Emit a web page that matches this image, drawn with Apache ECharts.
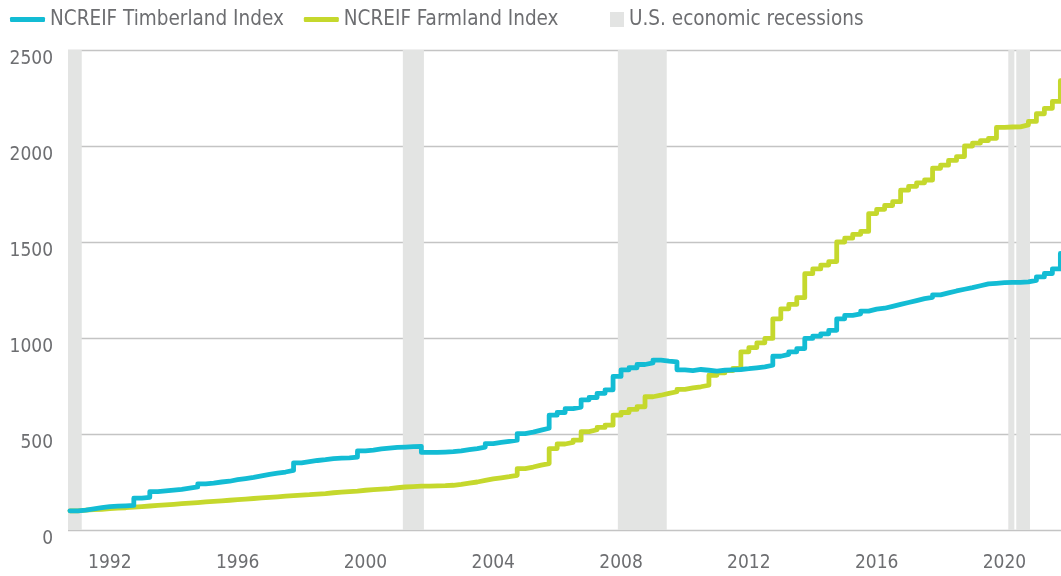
<!DOCTYPE html>
<html>
<head>
<meta charset="utf-8">
<title>NCREIF Timberland vs Farmland</title>
<script src="https://cdn.jsdelivr.net/npm/echarts@6/dist/echarts.min.js"></script>
<style>
    html, body { margin: 0; padding: 0; background: #fff; }
    #chart { width: 1061px; height: 576px; }
</style>
</head>
<body>
<div id="chart"></div>
<script>
// quarterly index values, first quarter = 1990 Q4, step 0.25 yr
var firstQuarter = 1990.75;
var timberland = [
    100,
    104, 110, 116, 122,
    124, 126, 128, 166,
    170, 200, 204, 208,
    212, 218, 224, 240,
    244, 250, 254, 262,
    268, 274, 282, 290,
    296, 302, 310, 350,
    356, 362, 366, 372,
    374, 376, 380, 412,
    416, 422, 426, 430,
    432, 434, 436, 404,
    404, 406, 408, 412,
    418, 424, 432, 450,
    456, 462, 468, 502,
    510, 520, 530, 598,
    612, 632, 640, 678,
    690, 712, 730, 800,
    834, 845, 862, 870,
    885, 880, 876, 834,
    830, 836, 832, 828,
    832, 834, 836, 840,
    845, 850, 858, 905,
    915, 928, 945, 998,
    1010, 1022, 1040, 1100,
    1118, 1126, 1140, 1150,
    1155, 1165, 1175, 1185,
    1195, 1205, 1212, 1225,
    1235, 1245, 1254, 1262,
    1272, 1282, 1285, 1288,
    1290, 1290, 1292, 1300,
    1318, 1336, 1360, 1440
];
var farmland = [
    100,
    103, 106, 108, 111,
    114, 116, 119, 122,
    125, 128, 131, 134,
    137, 140, 143, 146,
    149, 152, 155, 158,
    161, 164, 167, 170,
    173, 176, 179, 182,
    184, 187, 190, 194,
    197, 200, 203, 207,
    210, 213, 216, 220,
    224, 226, 228, 229,
    230, 231, 233, 238,
    244, 250, 258, 266,
    272, 278, 285, 320,
    328, 338, 346, 424,
    448, 456, 468, 512,
    522, 534, 546, 598,
    612, 628, 642, 694,
    702, 712, 720, 732,
    740, 746, 754, 806,
    818, 830, 842, 928,
    950, 975, 998, 1100,
    1152, 1175, 1210, 1335,
    1360, 1380, 1398, 1500,
    1520, 1540, 1555, 1648,
    1670, 1690, 1710, 1770,
    1790, 1808, 1823, 1884,
    1900, 1925, 1945, 2000,
    2015, 2028, 2040, 2097,
    2099, 2100, 2110, 2128,
    2168, 2196, 2232, 2340
];
// recession bands (decimal years)
var recessionStart = [1990.5, 2001.17, 2007.9, 2020.12, 2020.37];
var recessionEnd = [1991.12, 2001.83, 2009.43, 2020.31, 2020.8];
var yearTicks = [1992, 1996, 2000, 2004, 2008, 2012, 2016, 2020];
var yTicks = [0, 500, 1000, 1500, 2000, 2500];

var chartApp = (function () {
    var xMin = 1990.69, xMax = 2021.77;
    var fontName = '"DejaVu Sans Condensed", "Liberation Sans Narrow", sans-serif';
    var textColor = '#6d6e71';

    var toPairs, buildBands, init;

    toPairs = function (arr) {
        var out = [];
        for (var i = 0; i < arr.length; i++) {
            out.push([firstQuarter + i * 0.25, arr[i]]);
        }
        return out;
    };

    buildBands = function () {
        var bands = [];
        for (var i = 0; i < recessionStart.length; i++) {
            bands.push([
                { xAxis: Math.max(recessionStart[i], xMin) },
                { xAxis: Math.min(recessionEnd[i], xMax) }
            ]);
        }
        return bands;
    };

    init = function () {
        var chart = echarts.init(document.getElementById('chart'));
        var option = {
            animation: false,
            textStyle: { fontFamily: fontName, color: textColor },
            legend: [{
                left: 10,
                top: 9,
                padding: 0,
                itemWidth: 35,
                itemHeight: 5,
                itemGap: 20,
                icon: 'roundRect',
                textStyle: { fontFamily: fontName, fontSize: 20.5, color: textColor, lineHeight: 20 },
                data: ['NCREIF Timberland Index', 'NCREIF Farmland Index']
            }, {
                left: 610,
                top: 9,
                padding: 0,
                itemWidth: 14,
                itemHeight: 15,
                icon: 'rect',
                textStyle: { fontFamily: fontName, fontSize: 20.5, color: textColor, lineHeight: 20 },
                data: ['U.S. economic recessions']
            }],
            grid: {
                left: 68,
                right: 0,
                top: 50,
                bottom: 46,
                containLabel: false,
                outerBoundsMode: 'none'
            },
            xAxis: {
                type: 'value',
                min: xMin,
                max: xMax,
                axisLine: { show: false },
                axisTick: { show: false },
                splitLine: { show: false },
                axisLabel: {
                    customValues: yearTicks,
                    margin: 24,
                    fontSize: 19,
                    color: textColor,
                    fontFamily: fontName,
                    formatter: function (v) { return String(v); }
                }
            },
            yAxis: {
                type: 'value',
                min: 0,
                max: 2500,
                interval: 500,
                axisLine: { show: false },
                axisTick: { show: false },
                splitLine: { lineStyle: { color: '#c4c4c4', width: 1.3 } },
                axisLabel: {
                    customValues: yTicks,
                    margin: 15,
                    fontSize: 19,
                    color: textColor,
                    fontFamily: fontName,
                    verticalAlign: 'top',
                    formatter: function (v) { return String(v); }
                }
            },
            series: [{
                name: 'U.S. economic recessions',
                type: 'line',
                data: [],
                z: 1,
                itemStyle: { color: '#e3e4e3' },
                markArea: {
                    silent: true,
                    itemStyle: { color: '#e3e4e3' },
                    data: buildBands()
                }
            }, {
                name: 'NCREIF Timberland Index',
                type: 'line',
                step: 'end',
                showSymbol: false,
                z: 3,
                data: toPairs(timberland),
                itemStyle: { color: '#13bcd4' },
                lineStyle: { color: '#13bcd4', width: 4.8, cap: 'round', join: 'round' }
            }, {
                name: 'NCREIF Farmland Index',
                type: 'line',
                step: 'end',
                showSymbol: false,
                z: 2,
                data: toPairs(farmland),
                itemStyle: { color: '#c5d82d' },
                lineStyle: { color: '#c5d82d', width: 4.8, cap: 'round', join: 'round' }
            }]
        };
        chart.setOption(option);
    };

    return { init: init };
}());

chartApp.init();
</script>
</body>
</html>
